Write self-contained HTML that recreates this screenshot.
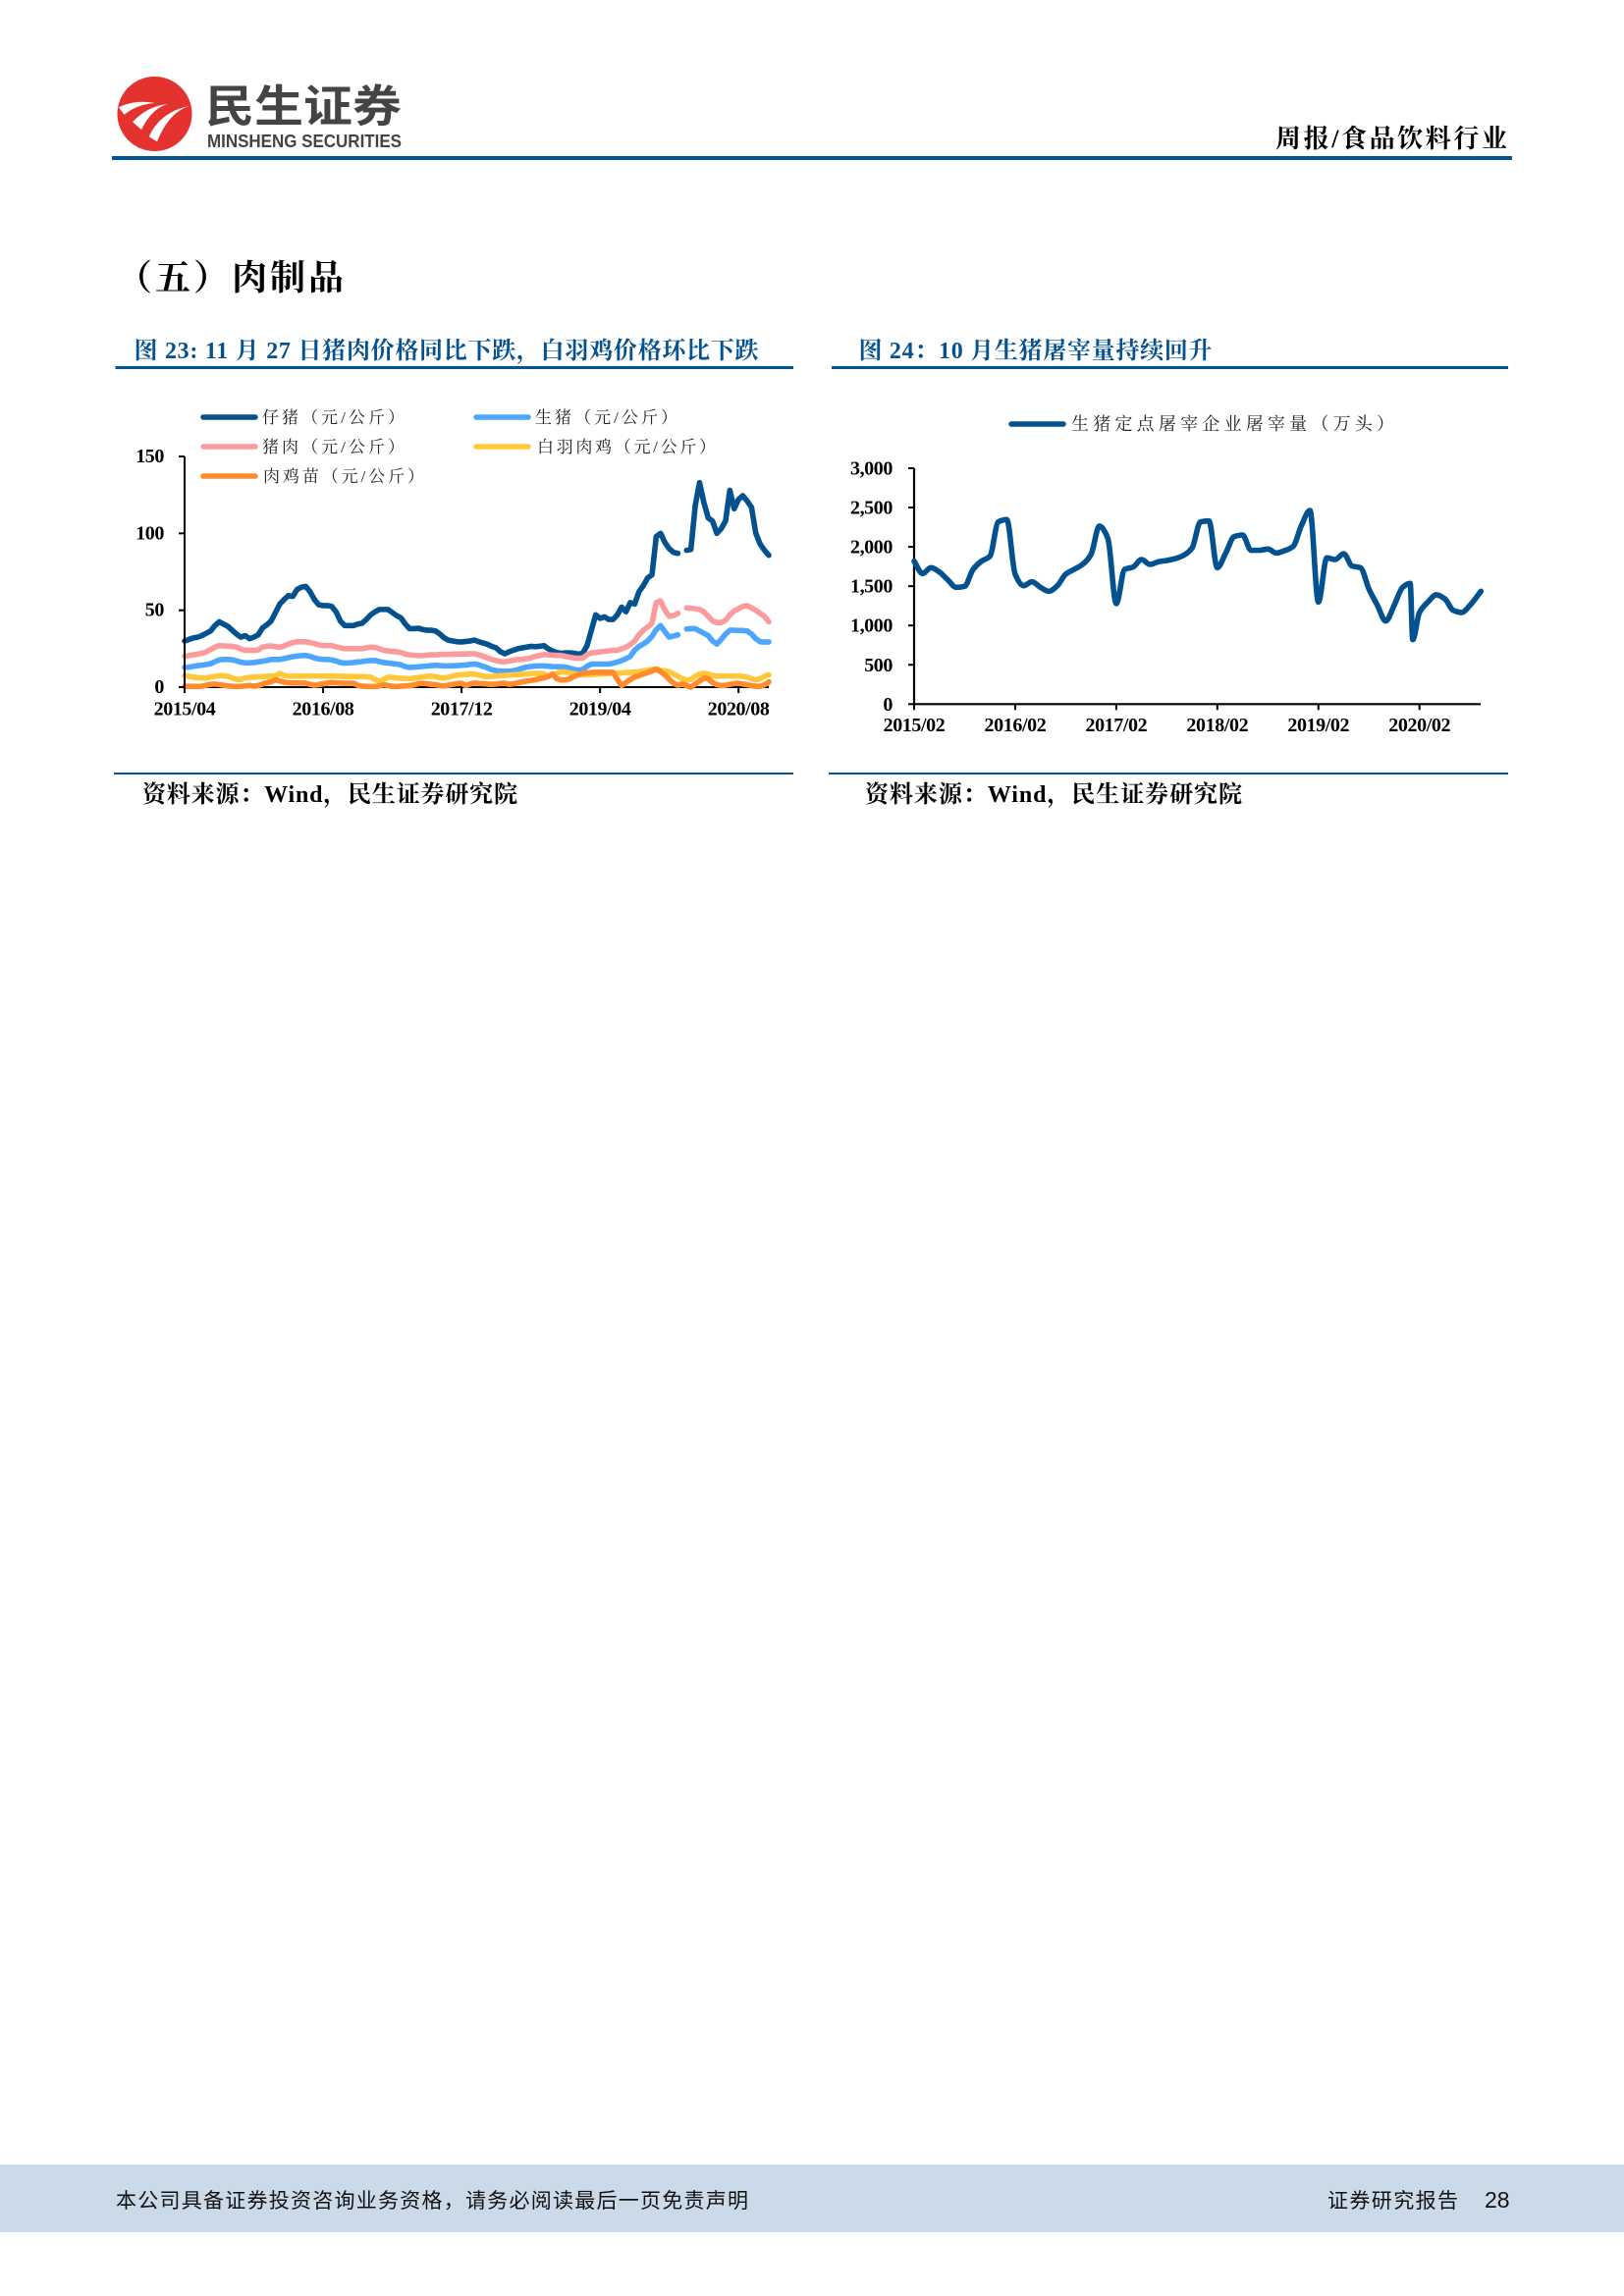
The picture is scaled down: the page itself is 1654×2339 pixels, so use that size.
<!DOCTYPE html>
<html lang="zh-CN">
<head>
<meta charset="utf-8">
<title>周报/食品饮料行业</title>
<style>
html,body{margin:0;padding:0;background:#fff;width:1654px;height:2339px;overflow:hidden}
svg{display:block}
.serif{font-family:"Liberation Serif","Noto Serif CJK SC",serif}
.sans{font-family:"Liberation Sans","Noto Sans CJK SC",sans-serif}
.tick{font-family:"Liberation Serif",serif;font-weight:700;font-size:20px;letter-spacing:-0.4px;fill:#000}
.leg{font-family:"Liberation Serif","Noto Serif CJK SC",serif;font-size:17px;fill:#222}
</style>
</head>
<body>
<svg id="page" xmlns="http://www.w3.org/2000/svg" width="1654" height="2339" viewBox="0 0 1654 2339">
  <rect x="0" y="0" width="1654" height="2339" fill="#ffffff"/>

  <g transform="translate(0,1)">
    <circle cx="157.5" cy="115" r="38" fill="#E4332E"/>
    <path d="M120.7 108.3Q138 100 158 104Q140 105 126.7 115.7Z" fill="#fff"/>
    <path d="M135 123.3Q150 107 171 105Q155 109 144 131Z" fill="#fff"/>
    <path d="M151.7 138.3Q163 113 193.3 106.7Q172 113 160 143.3Z" fill="#fff"/>
    <text x="209" y="123" textLength="200" lengthAdjust="spacingAndGlyphs" font-size="45" font-weight="700" fill="#444" class="sans">民生证券</text>
    <text x="211" y="149" textLength="198" lengthAdjust="spacingAndGlyphs" font-size="18.5" font-weight="700" fill="#444" class="sans">MINSHENG SECURITIES</text>
  </g>
  <text x="1299" y="150" textLength="236" lengthAdjust="spacing" font-size="26" font-weight="700" fill="#000" class="serif">周报/食品饮料行业</text>
  <rect x="114" y="159" width="1426" height="4" fill="#005596"/>

  <text x="119" y="295" font-size="36" font-weight="700" letter-spacing="3" fill="#000" class="serif">（五）肉制品</text>

  <text x="136.5" y="365" textLength="636" lengthAdjust="spacing" font-size="24" font-weight="700" fill="#05528F" class="serif">图 23: 11 月 27 日猪肉价格同比下跌，白羽鸡价格环比下跌</text>
  <rect x="117.5" y="373" width="690.5" height="3" fill="#005596"/>
  <text x="874.5" y="365" textLength="360" lengthAdjust="spacing" font-size="24" font-weight="700" fill="#05528F" class="serif">图 24：10 月生猪屠宰量持续回升</text>
  <rect x="847" y="373" width="689" height="3" fill="#005596"/>

  <g>
    <g>
      <line x1="207" y1="425" x2="260" y2="425" stroke="#03528F" stroke-width="5.5" stroke-linecap="round"/>
      <text x="267" y="431" textLength="145" lengthAdjust="spacing" class="leg">仔猪（元/公斤）</text>
    </g>
    <g>
      <line x1="207" y1="455" x2="260" y2="455" stroke="#FC9B9D" stroke-width="5.5" stroke-linecap="round"/>
      <text x="267" y="461" textLength="145" lengthAdjust="spacing" class="leg">猪肉（元/公斤）</text>
    </g>
    <g>
      <line x1="207" y1="485" x2="260" y2="485" stroke="#FF8B2D" stroke-width="5.5" stroke-linecap="round"/>
      <text x="268" y="491" textLength="164" lengthAdjust="spacing" class="leg">肉鸡苗（元/公斤）</text>
    </g>
    <g>
      <line x1="485" y1="425" x2="538" y2="425" stroke="#4DA6FB" stroke-width="5.5" stroke-linecap="round"/>
      <text x="545" y="431" textLength="145" lengthAdjust="spacing" class="leg">生猪（元/公斤）</text>
    </g>
    <g>
      <line x1="485" y1="455" x2="538" y2="455" stroke="#FFC83A" stroke-width="5.5" stroke-linecap="round"/>
      <text x="547" y="461" textLength="182" lengthAdjust="spacing" class="leg">白羽肉鸡（元/公斤）</text>
    </g>
  </g>

  <g>
    <line x1="1030" y1="432" x2="1083" y2="432" stroke="#03528F" stroke-width="5.5" stroke-linecap="round"/>
    <text x="1091" y="438" textLength="329" lengthAdjust="spacing" class="leg" style="font-size:18px">生猪定点屠宰企业屠宰量（万头）</text>
  </g>

  <g id="chart-left"></g>
  <g id="chart-right"></g>

  <rect x="116" y="787" width="692" height="2" fill="#005596"/>
  <text x="145" y="817" textLength="382" lengthAdjust="spacing" font-size="24" font-weight="700" fill="#000" class="serif">资料来源：Wind，民生证券研究院</text>
  <rect x="844" y="787" width="692" height="2" fill="#005596"/>
  <text x="881" y="817" textLength="384" lengthAdjust="spacing" font-size="24" font-weight="700" fill="#000" class="serif">资料来源：Wind，民生证券研究院</text>

  <rect x="0" y="2205" width="1654" height="69" fill="#CBDAE9"/>
  <text x="118" y="2249" textLength="644" lengthAdjust="spacing" font-size="21" fill="#111" class="sans">本公司具备证券投资咨询业务资格，请务必阅读最后一页免责声明</text>
  <text x="1352" y="2249" textLength="133" lengthAdjust="spacing" font-size="21" fill="#111" class="sans">证券研究报告</text>
  <text x="1512" y="2249" font-size="23" fill="#111" class="sans">28</text>
</svg>

<script>
// ---------- Figure 23 data: half-monthly samples, 2015/04 to 2020/11 ----------
const halfMonths = [
'2015/04','2015/04h','2015/05','2015/05h','2015/06','2015/06h','2015/07','2015/07h','2015/08','2015/08h','2015/09','2015/09h','2015/10','2015/10h','2015/11','2015/11h','2015/12','2015/12h',
'2016/01','2016/01h','2016/02','2016/02h','2016/03','2016/03h','2016/04','2016/04h','2016/05','2016/05h','2016/06','2016/06h','2016/07','2016/07h','2016/08','2016/08h','2016/09','2016/09h','2016/10','2016/10h','2016/11','2016/11h','2016/12','2016/12h',
'2017/01','2017/01h','2017/02','2017/02h','2017/03','2017/03h','2017/04','2017/04h','2017/05','2017/05h','2017/06','2017/06h','2017/07','2017/07h','2017/08','2017/08h','2017/09','2017/09h','2017/10','2017/10h','2017/11','2017/11h','2017/12','2017/12h',
'2018/01','2018/01h','2018/02','2018/02h','2018/03','2018/03h','2018/04','2018/04h','2018/05','2018/05h','2018/06','2018/06h','2018/07','2018/07h','2018/08','2018/08h','2018/09','2018/09h','2018/10','2018/10h','2018/11','2018/11h','2018/12','2018/12h',
'2019/01','2019/01h','2019/02','2019/02h','2019/03','2019/03h','2019/04','2019/04h','2019/05','2019/05h','2019/06','2019/06h','2019/07','2019/07h','2019/08','2019/08h','2019/09','2019/09h','2019/10','2019/10h','2019/11','2019/11h','2019/12','2019/12h',
'2020/01','2020/01h','2020/02','2020/02h','2020/03','2020/03h','2020/04','2020/04h','2020/05','2020/05h','2020/06','2020/06h','2020/07','2020/07h','2020/08','2020/08h','2020/09','2020/09h','2020/10','2020/10h','2020/11','2020/11h'
];
const pigletPrice = [
30,31,32,32.5,33.5,35,36.5,40,42.5,41,
39.5,37,34.5,32.5,33.5,31.5,32.5,34,38.5,40.5,
43,48.5,54,57,59.5,59,63.5,65,65.5,62,
57,53.5,53,53,52.5,49,43,40,40,40,
41,41.5,44,47,49,50.5,50.5,50.5,48.5,46.5,
45,41,38,38,38.3,37.5,37,37,36.5,34.5,
32,30.5,30,29.5,29.4,29.7,30,30.6,29.5,28.7,
27.8,26.5,25.5,23,21.7,23,24,25,25.5,26,
26.5,26.3,26.5,27,25,23.5,22.5,22,22.2,22.3,
22,21.5,22,27,37,47,44.7,45.7,44,44,
47,52,49,55,54,62,66,71,73,98,
100,94,90,87.6,87,null,89,89.5,118,133,
120,110,108,100,103,108,128,116,122,124.5,
121,117,100,93,89,85.7
];
const hogPrice = [
12.8,13,13.5,14,14.3,14.7,15.2,16.5,17.7,18,
18,17.8,17,16.2,15.8,15.8,16,16.4,16.8,17.3,
18,18,18,18.6,19.2,19.8,20.2,20.5,20.6,20,
19,18.3,18,18,17.7,17,16,15.6,15.8,16,
16.4,16.6,17,17.3,17.3,16.6,16,15.7,15.3,15,
14.5,13.3,12.8,13,13.2,13.5,13.7,14,14.2,14,
13.8,13.8,13.9,14,14.2,14.4,14.8,15,14.5,13.5,
12.5,11.3,10.7,10.5,10.3,10.3,10.7,11.3,12.3,13,
13.4,13.7,13.8,13.8,13.6,13.4,13.3,13.2,13,12.3,
11.5,11,11.5,13.5,15,15,15,15,15,15.5,
16.3,17.3,18.5,20,24,26.5,28,30,33,37.5,
40,36,32.5,33.3,34,null,37.8,38,38,36.5,
35,33.5,30,28,31,34.5,37,37,36.8,36.8,
36.5,34.5,31.5,29.5,29.3,29.4
];
const porkPrice = [
20,20.5,21,21.5,22,23,24.5,26,27,26.8,
26.7,26.5,26,24.8,24,24,23.8,24.2,26,26.6,
26.8,26.3,26,26.8,28,29,29.5,29.5,29.5,29,
28.3,27.5,27,27,27,26.3,25.5,25,25,25,
25,25,25.5,26,25.8,25,24,23.5,23.2,23,
22.5,21.5,21,20.7,20.5,20.5,20.8,21,21,21.3,
21.3,21.3,21.4,21.5,21.6,21.6,21.7,21.7,21,20,
19,18,17.2,16.6,16.4,17,17.5,18,18,18.5,
19,20,20.5,21.2,21,20.8,20.6,20.6,20,19.5,
19,18.7,19,21,22.3,22.5,23,23.3,23.6,24,
24,25,26,27.7,30,34,37,39,41.5,55,
56,50,46,46.5,48,null,51.5,51.3,51,50.5,
49,46,43,42,42,43.5,47,49.5,51,52.5,
53,51.5,50,48,46,42.5
];
const broilerPrice = [
7.4,7,6.5,6.2,6,6,6.5,7,7.4,7.4,
7,6,5,5,6,6.3,6.5,6.7,6.8,7,
7.2,7.2,9,7.5,7.2,7.2,7.2,7.2,7.2,7.2,
7.2,7.2,7.2,7.2,7.2,7.2,7,7,7,6.9,
6.8,6.8,6.7,6.5,5,3.8,5,6.4,6.4,6,
5.8,5.6,5.5,5.8,6.2,6.6,7,7.2,6.8,6.2,
6,6.5,7.2,7.8,8,8.3,8.5,8.5,7.8,7.2,
6.8,7,7.2,7.5,7.6,7.8,8,8.2,8.4,8.6,
8.8,9,9,8.5,7.2,8,9,10,9.7,9.2,
8.7,8.2,8,8,8.2,8.4,8.5,8.7,8.8,9,
9,9.2,9.5,9.6,9.8,10,10.5,11,11.5,11.7,
11,10.5,10,8.5,7,5.5,4.5,5,7,8.5,
9,8.5,7.5,7.2,7.2,7.2,7.2,7.2,7.2,7,
6.5,5.5,4.7,5.5,7,8
];
const chickPrice = [
0.6,0.5,0.5,0.4,0.6,1.2,1.8,2,1.6,1.2,
0.8,0.5,0.4,0.5,0.8,1.1,0.6,1,2,2.8,
3.5,4.7,4,3.2,2.8,2.7,2.7,2.7,2.6,1.8,
1.2,1.6,2.2,2.6,3,2.8,2.6,2.5,2.5,2.5,
1.2,0.6,0.5,0.4,0.4,0.8,1.5,1,0.5,0.4,
0.6,0.8,1,1.4,2.3,2.5,2.2,1.8,1.5,1,
0.8,1.3,1.8,2.3,2.5,1,2,2.7,2.4,2.2,
2,1.7,2,2.4,2.5,1.8,2.2,2.8,3.4,3.9,
4.3,4.8,5.5,6,6.8,8.5,5.5,4.7,4.7,5.5,
7,8,9,9.3,9.5,9.6,9.6,9.6,9.6,9.6,
5,1,3,5,6.5,7.5,8.5,9.5,10.5,11.7,
10,8,5,2.5,1.2,2,1,0,2,4,
5.8,5.5,3,1.5,1,1.2,1.8,2.3,2.5,2,
1.5,1,0.6,0.5,1.5,3.4
];
const leftSeriesNames = ['piglet','hog','pork','broiler','chick'];
const leftSeriesValues = [pigletPrice,hogPrice,porkPrice,broilerPrice,chickPrice];
const leftYTicks = [0,50,100,150];
const leftXTickLabels = ['2015/04','2016/08','2017/12','2019/04','2020/08'];

// ---------- Figure 24 data: months since 2015/02 and slaughter volume (10k head) ----------
const slaughterMonths = [
0,1,2,3,4,5,6,7,8,9,10,11,
12,13,14,15,16,17,18,19,20,21,22,23,
24,25,26,27,28,29,30,31,32,33,34,35,
36,37,38,39,40,41,42,43,44,45,46,47,
48,49,50,51,52,53,54,55,56,57,58,58.9,59.2,
60,61,62,63,64,65,66,67.3
];
const slaughterVolume = [
1818,1660,1735,1680,1580,1485,1498,1714,1818,1880,2318,2347,
1652,1506,1556,1485,1435,1506,1652,1714,1777,1902,2264,2110,
1277,1714,1743,1839,1777,1810,1827,1850,1893,1985,2318,2330,
1735,1922,2130,2151,1956,1956,1972,1922,1952,2006,2276,2463,
1298,1860,1839,1914,1756,1735,1465,1257,1057,1257,1485,1535,820,
1165,1298,1390,1340,1194,1165,1257,1435
];
const rightYTicks = [0,500,1000,1500,2000,2500,3000];
const rightXTickLabels = ['2015/02','2016/02','2017/02','2018/02','2019/02','2020/02'];

// ---------- Drawing ----------
const SVGNS = 'http://www.w3.org/2000/svg';
const leftColors = {piglet:'#03528F',hog:'#4DA6FB',pork:'#FC9B9D',broiler:'#FFC83A',chick:'#FF8B2D'};
const leftPlot = {x0:188,x1:783,y0:700,y1:465};
const rightPlot = {x0:931,x1:1508,y0:717.3,y1:477,monthStep:8.578};

function make(parent,tag,attrs,text){
  const el = document.createElementNS(SVGNS,tag);
  for(const k in attrs){el.setAttribute(k,attrs[k]);}
  if(text!==undefined){el.textContent=text;}
  parent.appendChild(el);
  return el;
}

const leftX = i => leftPlot.x0 + i*(leftPlot.x1-leftPlot.x0)/(halfMonths.length-1);
const leftY = v => leftPlot.y0 - v*(leftPlot.y0-leftPlot.y1)/150;
const rightX = m => rightPlot.x0 + m*rightPlot.monthStep;
const rightY = v => rightPlot.y0 - v*(rightPlot.y0-rightPlot.y1)/3000;

function polylinePath(values){
  let d='',pen=false;
  values.forEach((v,i)=>{
    if(v===null){pen=false;return;}
    d+=(pen?'L':'M')+leftX(i).toFixed(2)+' '+leftY(v).toFixed(2);
    pen=true;
  });
  return d;
}

// monotone cubic smoothing, close to the rounded peaks of the source line
function smoothPath(xs,ys){
  const n=xs.length,s=[],t=[];
  for(let i=0;i<n-1;i++){s.push((ys[i+1]-ys[i])/(xs[i+1]-xs[i]));}
  t[0]=s[0];t[n-1]=s[n-2];
  for(let i=1;i<n-1;i++){
    t[i]=s[i-1]*s[i]<=0?0:2*s[i-1]*s[i]/(s[i-1]+s[i]);
  }
  let d='M'+xs[0].toFixed(2)+' '+ys[0].toFixed(2);
  for(let i=0;i<n-1;i++){
    const h=(xs[i+1]-xs[i])/3;
    d+='C'+(xs[i]+h).toFixed(2)+' '+(ys[i]+t[i]*h).toFixed(2)+' '+(xs[i+1]-h).toFixed(2)+' '+(ys[i+1]-t[i+1]*h).toFixed(2)+' '+xs[i+1].toFixed(2)+' '+ys[i+1].toFixed(2);
  }
  return d;
}

// Figure 23
const gl = document.getElementById('chart-left');
leftSeriesNames.forEach((name,idx)=>{
  const p = make(gl,'path',{d:polylinePath(leftSeriesValues[idx]),fill:'none',stroke:leftColors[name],'stroke-width':5.6,'stroke-linecap':'round','stroke-linejoin':'round'});
  
  
});
const leftYAxis = make(gl,'line',{x1:leftPlot.x0,y1:leftPlot.y1,x2:leftPlot.x0,y2:leftPlot.y0+1,stroke:'#000','stroke-width':2});


const leftXAxis = make(gl,'line',{x1:leftPlot.x0,y1:leftPlot.y0,x2:leftPlot.x1,y2:leftPlot.y0,stroke:'#000','stroke-width':2});


gl.insertBefore(leftXAxis,gl.firstChild);
leftYTicks.forEach(v=>{
  const t = make(gl,'line',{x1:leftPlot.x0-6,y1:leftY(v),x2:leftPlot.x0,y2:leftY(v),stroke:'#000','stroke-width':2});
  
  
  const l = make(gl,'text',{x:167,y:leftY(v)+6,'text-anchor':'end',class:'tick'},String(v));
  
  
});
leftXTickLabels.forEach(label=>{
  const x = leftX(halfMonths.indexOf(label));
  const t = make(gl,'line',{x1:x,y1:leftPlot.y0,x2:x,y2:leftPlot.y0+6,stroke:'#000','stroke-width':2});
  
  
  const l = make(gl,'text',{x:x,y:728.5,'text-anchor':'middle',class:'tick'},label);
  
  
});

// Figure 24
const gr = document.getElementById('chart-right');
const rightYAxis = make(gr,'line',{x1:rightPlot.x0,y1:rightPlot.y1,x2:rightPlot.x0,y2:rightPlot.y0+1,stroke:'#000','stroke-width':2.2});


const rightXAxis = make(gr,'line',{x1:rightPlot.x0,y1:rightPlot.y0,x2:rightPlot.x1,y2:rightPlot.y0,stroke:'#000','stroke-width':2.2});


rightYTicks.forEach(v=>{
  const t = make(gr,'line',{x1:rightPlot.x0-6,y1:rightY(v),x2:rightPlot.x0,y2:rightY(v),stroke:'#000','stroke-width':2});
  
  
  const l = make(gr,'text',{x:909,y:rightY(v)+6.5,'text-anchor':'end',class:'tick'},v===0?'0':v.toLocaleString('en-US'));
  
  
});
rightXTickLabels.forEach(label=>{
  const parts = label.split('/');
  const x = rightX((Number(parts[0])-2015)*12+Number(parts[1])-2);
  const t = make(gr,'line',{x1:x,y1:rightPlot.y0,x2:x,y2:rightPlot.y0+6,stroke:'#000','stroke-width':2});
  
  
  const l = make(gr,'text',{x:x,y:745,'text-anchor':'middle',class:'tick'},label);
  
  
});
const rightLine = make(gr,'path',{d:smoothPath(slaughterMonths.map(rightX),slaughterVolume.map(rightY)),fill:'none',stroke:'#03528F','stroke-width':5.6,'stroke-linecap':'round','stroke-linejoin':'round'});


</script>
</body>
</html>
